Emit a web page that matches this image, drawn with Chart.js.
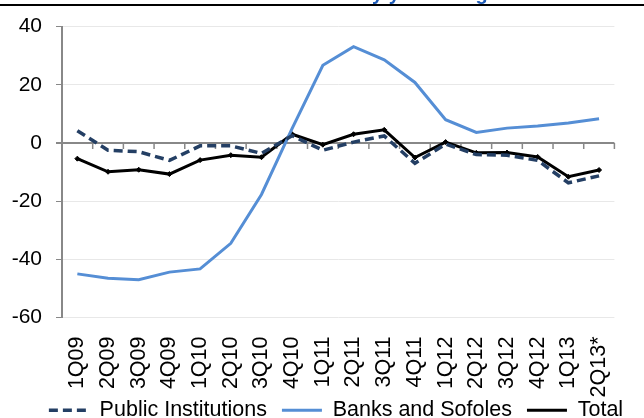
<!DOCTYPE html>
<html>
<head>
<meta charset="utf-8">
<script src="https://cdn.jsdelivr.net/npm/chart.js@4.4.1/dist/chart.umd.min.js"></script>
<style>
  html, body { margin: 0; padding: 0; background: #ffffff; }
  #wrap { position: relative; width: 644px; height: 418px; overflow: hidden; }
  #title { position: absolute; left: 372px; top: -17px; font: bold 20px "Liberation Sans", Arial, sans-serif; line-height: 20px; color: #1F5CB8; white-space: nowrap; }
  #rule { position: absolute; left: 0; top: 4px; width: 644px; height: 2px; background: #000; }
  canvas { position: absolute; left: 0; top: 0; }
</style>
</head>
<body>
<div id="wrap">
  <canvas id="c" width="644" height="418"></canvas>
  <div id="title">y/y % change</div>
  <div id="rule"></div>
</div>
<script>
const categories = ['1Q09','2Q09','3Q09','4Q09','1Q10','2Q10','3Q10','4Q10','1Q11','2Q11','3Q11','4Q11','1Q12','2Q12','3Q12','4Q12','1Q13','2Q13*'];
const publicInstitutions = [4.2, -2.5, -3.0, -6.0, -1.0, -1.0, -3.6, 2.5, -2.5, 0.3, 2.4, -7.0, -0.4, -4.0, -4.2, -6.0, -13.7, -11.3];
const banksAndSofoles = [-45.0, -46.5, -47.0, -44.4, -43.3, -34.5, -17.7, 5.0, 26.7, 33.1, 28.6, 20.8, 8.0, 3.6, 5.1, 5.8, 6.9, 8.3];
const total = [-5.4, -9.9, -9.2, -10.7, -5.9, -4.2, -4.9, 3.0, -0.6, 3.0, 4.5, -5.0, 0.3, -3.4, -3.3, -4.8, -11.6, -9.3];
const yTicks = [-60, -40, -20, 0, 20, 40];

const FONT = '"Liberation Sans", Arial, sans-serif';
const AXIS_GRAY = '#888888';

const zeroTicks = {
  id: 'zeroTicks',
  afterLayout(chart) {
    if (chart.legend) { chart.legend.left += 14; chart.legend.right += 14; }
    // let rotated category labels extend past the axis box without being clipped
    chart.scales.x.bottom += 20;
  },
  beforeDatasetsDraw(chart) {
    const xs = chart.scales.x, ys = chart.scales.y;
    const y0 = ys.getPixelForValue(0);
    const ctx = chart.ctx;
    ctx.save();
    ctx.strokeStyle = AXIS_GRAY;
    ctx.lineWidth = 1.5;
    ctx.beginPath();
    for (let i = 1; i <= categories.length; i++) {
      const a = xs.getPixelForValue(i - 1);
      const x = i < categories.length ? (a + xs.getPixelForValue(i)) / 2 : xs.right;
      ctx.moveTo(x, y0);
      ctx.lineTo(x, y0 + 6);
    }
    ctx.stroke();
    ctx.restore();
  }
};

new Chart(document.getElementById('c'), {
  type: 'line',
  data: {
    labels: categories,
    datasets: [
      {
        label: 'Public Institutions',
        data: publicInstitutions,
        borderColor: '#243F64',
        backgroundColor: '#243F64',
        borderWidth: 3.5,
        borderDash: [9, 5],
        pointRadius: 0,
        tension: 0
      },
      {
        label: 'Banks and Sofoles',
        data: banksAndSofoles,
        borderColor: '#558ED5',
        backgroundColor: '#558ED5',
        borderWidth: 3,
        pointRadius: 0,
        tension: 0
      },
      {
        label: 'Total',
        data: total,
        borderColor: '#000000',
        backgroundColor: '#000000',
        borderWidth: 3,
        pointStyle: 'rectRot',
        pointRadius: 2.5,
        pointBorderWidth: 1,
        tension: 0
      }
    ]
  },
  options: {
    responsive: false,
    animation: false,
    layout: { padding: { top: 9, right: 0, left: 0, bottom: -13 } },
    plugins: {
      title: { display: false },
      tooltip: { enabled: false },
      legend: {
        position: 'bottom',
        labels: {
          usePointStyle: true,
          pointStyle: 'line',
          pointStyleWidth: 40,
          padding: 15,
          color: '#000',
          font: { family: FONT, size: 21.5 },
          generateLabels(chart) {
            return chart.data.datasets.map((ds, i) => ({
              text: ds.label,
              strokeStyle: ds.borderColor,
              fillStyle: ds.borderColor,
              lineWidth: ds.borderWidth,
              lineDash: ds.borderDash || [],
              pointStyle: 'line',
              datasetIndex: i,
              hidden: false
            }));
          }
        }
      }
    },
    scales: {
      x: {
        offset: true,
        grid: { display: false, drawTicks: false },
        border: { display: false },
        ticks: {
          minRotation: 90, maxRotation: 90,
          autoSkip: false,
          padding: 19,
          color: '#000',
          font: { family: FONT, size: 21.5 }
        },
        afterFit(scale) { scale.height = 67; }
      },
      y: {
        min: -60, max: 40,
        afterBuildTicks(scale) { scale.ticks = yTicks.map(v => ({ value: v })); },
        grid: {
          color: ctx => ctx.tick && ctx.tick.value === 0 ? AXIS_GRAY : '#e8e8e8',
          lineWidth: ctx => ctx.tick && ctx.tick.value === 0 ? 2 : 1,
          tickColor: AXIS_GRAY,
          tickLength: 6,
          drawTicks: true
        },
        border: { color: AXIS_GRAY, width: 2 },
        ticks: {
          padding: 14,
          color: '#000',
          font: { family: FONT, size: 21 }
        },
        afterFit(scale) { scale.width = 62; }
      }
    }
  },
  plugins: [zeroTicks]
});
</script>
</body>
</html>
